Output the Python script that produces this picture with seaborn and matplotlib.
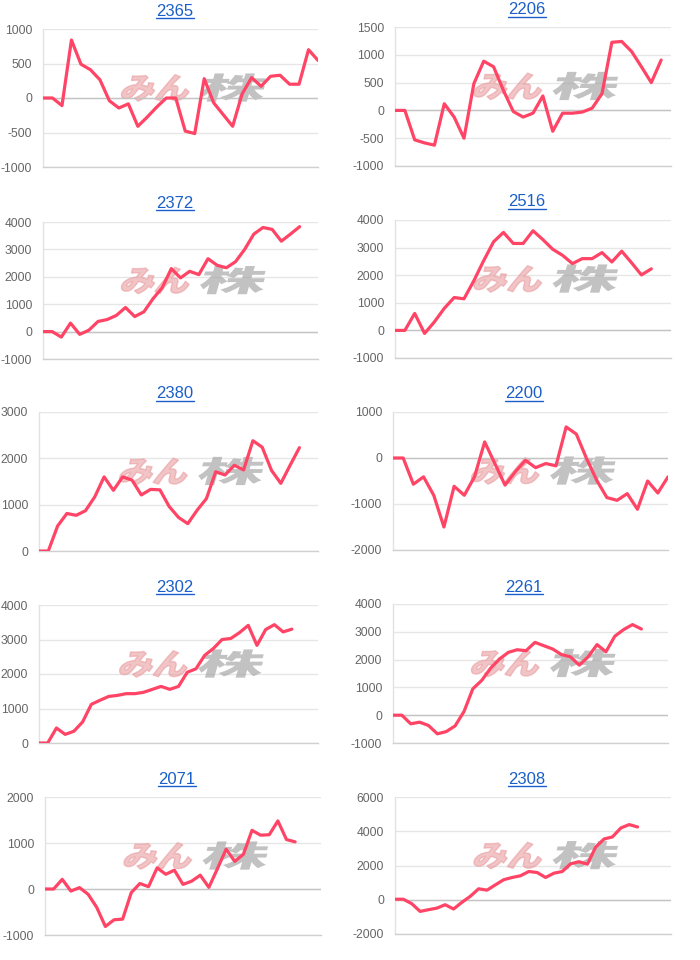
import numpy as np
import pandas as pd
import matplotlib
matplotlib.use("Agg")
import matplotlib.pyplot as plt
import seaborn as sns
from matplotlib.textpath import TextPath
from matplotlib.font_manager import FontProperties
from matplotlib.patches import PathPatch
from matplotlib.transforms import Affine2D
from matplotlib.lines import Line2D

# ---------------- data ----------------
titles = ["2365", "2206", "2372", "2516", "2380", "2200", "2302", "2261", "2071", "2308"]

s2365 = [0, 0, -110, 840, 490, 410, 265, -40, -145, -85, -410, -275, -130, 0, 0,
         -480, -515, 280, -70, -240, -410, 60, 295, 170, 315, 330, 200, 200, 700, 545]
s2206 = [0, 0, -530, -585, -625, 120, -120, -500, 480, 885, 785, 360, -20, -120,
         -50, 260, -375, -50, -50, -30, 40, 300, 1225, 1240, 1060, 785, 500, 905]
s2372 = [0, 0, -200, 310, -100, 50, 370, 440, 590, 880, 550, 720, 1200, 1600, 2300,
         1960, 2200, 2080, 2660, 2420, 2330, 2550, 3000, 3560, 3800, 3730, 3300, 3560, 3830]
s2516 = [0, 0, 615, -110, 310, 800, 1190, 1145, 1800, 2530, 3210, 3550, 3150, 3150,
         3610, 3290, 2940, 2720, 2420, 2600, 2600, 2820, 2480, 2870, 2450, 2010, 2230]
s2380 = [0, 0, 540, 810, 770, 870, 1170, 1600, 1310, 1600, 1530, 1210, 1330, 1320,
         960, 725, 590, 880, 1130, 1710, 1640, 1850, 1750, 2380, 2240, 1740, 1460, 1850, 2230]
s2200 = [0, 0, -570, -410, -810, -1500, -615, -810, -410, 350, -120, -590, -300, -50,
         -210, -120, -170, 675, 520, -10, -485, -860, -920, -775, -1115, -500, -760, -410]
s2302 = [0, 0, 435, 250, 340, 610, 1120, 1240, 1350, 1380, 1430, 1430, 1470, 1555,
         1640, 1555, 1640, 2050, 2150, 2540, 2740, 3000, 3030, 3200, 3410, 2830, 3290,
         3430, 3220, 3300]
s2261 = [0, 0, -310, -250, -370, -670, -590, -385, 130, 950, 1250, 1690, 2020, 2260,
         2355, 2320, 2620, 2500, 2380, 2180, 2100, 1800, 2100, 2540, 2280, 2840, 3080,
         3260, 3100]
s2071 = [0, 0, 210, -45, 30, -115, -400, -815, -670, -655, -80, 120, 50, 460, 320,
         410, 100, 170, 300, 35, 445, 865, 600, 755, 1275, 1170, 1180, 1480, 1075, 1025]
s2308 = [30, 30, -230, -680, -580, -490, -290, -540, -150, 200, 640, 560, 870, 1170,
         1300, 1400, 1650, 1590, 1300, 1550, 1650, 2100, 2220, 2080, 3080, 3550, 3670,
         4190, 4390, 4250]

series = [s2365, s2206, s2372, s2516, s2380, s2200, s2302, s2261, s2071, s2308]
label_counts = [30, 29, 31, 29, 31, 28, 33, 32, 33, 34]
y_ranges = [(-1000, 1000), (-1000, 1500), (-1000, 4000), (-1000, 4000), (0, 3000),
            (-2000, 1000), (0, 4000), (-1000, 4000), (-1000, 2000), (-2000, 6000)]
y_steps = [500, 500, 1000, 1000, 1000, 1000, 1000, 1000, 1000, 2000]

# ---------------- layout (pixels: left, right, top, bottom) ----------------
W, H, DPI = 700, 960, 100
boxes = [(43, 318, 29, 167), (395, 671, 27, 166),
         (43, 318, 222, 359), (395, 671, 220, 358),
         (39, 318, 412, 551), (393, 668, 412, 550),
         (39, 318, 605, 743), (393, 668, 604, 743),
         (45, 321, 797, 935), (395, 671, 797, 934)]
title_pos = [(175, 11), (527, 10), (175, 203), (527, 202), (175, 394), (524, 394),
             (175, 587), (524, 587), (177, 779), (527, 779)]

LINE = "#ff4466"
GRID = "#e6e6e6"
TITLE_C = "#1a5fc8"

sns.set_theme(style="white")
plt.rcParams['font.family'] = ['Liberation Sans', 'DejaVu Sans']
plt.rcParams['axes.unicode_minus'] = False

fig = plt.figure(figsize=(W / DPI, H / DPI), dpi=DPI)
fig.patch.set_facecolor("white")

cjk = FontProperties(family="Noto Sans CJK JP", weight="black")


def add_watermark(ax, l, r, t, b):
    cx = l + 0.54 * (r - l)
    cy = H - (t + 0.42 * (b - t))
    size = 33
    base = cy - 0.36 * size
    pink = TextPath((0, 0), "みん", size=size, prop=cjk)
    gray = TextPath((0, 0), "株", size=size, prop=cjk)
    pe = pink.get_extents()
    ge = gray.get_extents()
    gsx = 2.0
    pw = pe.width * 1.05
    gw = ge.width * gsx
    gap = 11
    total = pw + gap + gw
    x0 = cx - total / 2 - pe.x0 * 1.05
    xg = cx - total / 2 + pw + gap - ge.x0 * gsx
    tp = (Affine2D().scale(1.05, 0.9).skew_deg(16, 0).translate(x0, base)
          .scale(1 / DPI) + fig.dpi_scale_trans)
    tg = (Affine2D().scale(gsx, 0.9).skew_deg(16, 0).translate(xg, base)
          .scale(1 / DPI) + fig.dpi_scale_trans)
    ax.add_patch(PathPatch(pink, transform=tp, facecolor="#e99da1", edgecolor="#e99da1",
                           lw=1.0, alpha=0.6, zorder=1, clip_on=False))
    ax.add_patch(PathPatch(gray, transform=tg, facecolor="#a8a8a8", edgecolor="none",
                           alpha=0.7, zorder=1, clip_on=False))


title_texts = []
for i, vals in enumerate(series):
    l, r, t, b = boxes[i]
    ax = fig.add_axes([l / W, 1 - b / H, (r - l) / W, (b - t) / H])
    df = pd.DataFrame({"x": np.arange(len(vals)), "y": vals})
    sns.lineplot(data=df, x="x", y="y", ax=ax, color=LINE, lw=2.3, zorder=3,
                 solid_joinstyle="round", solid_capstyle="round")
    lo, hi = y_ranges[i]
    ax.set_xlim(0, label_counts[i] - 1)
    ax.set_ylim(lo, hi)
    ax.set_yticks(np.arange(lo, hi + 1, y_steps[i]))
    ax.set_xticks([])
    ax.set_xlabel("")
    ax.set_ylabel("")
    ax.grid(axis="y", color=GRID, lw=1)
    ax.set_axisbelow(True)
    if lo < 0 < hi:
        ax.axhline(0, color="#c4c4c4", lw=1, zorder=2)
    for sp in ["top", "right"]:
        ax.spines[sp].set_visible(False)
    ax.spines["left"].set_color("#e2e2e2")
    ax.spines["left"].set_linewidth(1)
    ax.spines["bottom"].set_color("#d0d0d0")
    ax.spines["bottom"].set_linewidth(1)
    ax.tick_params(axis="y", length=7, width=1, color=GRID, pad=0.8,
                   labelsize=8.7, labelcolor="#666666")
    ax.set_facecolor("none")
    add_watermark(ax, l, r, t, b)

    tx, ty = title_pos[i]
    tt = fig.text(tx / W, 1 - ty / H, titles[i], ha="center", va="center",
                  fontsize=12, color=TITLE_C)
    title_texts.append(tt)

fig.canvas.draw()
renderer = fig.canvas.get_renderer()
for tt in title_texts:
    bb = tt.get_window_extent(renderer)
    y = bb.y0 + 0.5
    fig.add_artist(Line2D([bb.x0 / W, bb.x1 / W], [y / H, y / H],
                          transform=fig.transFigure, color=TITLE_C, lw=1))

fig.savefig("out.png", dpi=DPI, facecolor="white")
